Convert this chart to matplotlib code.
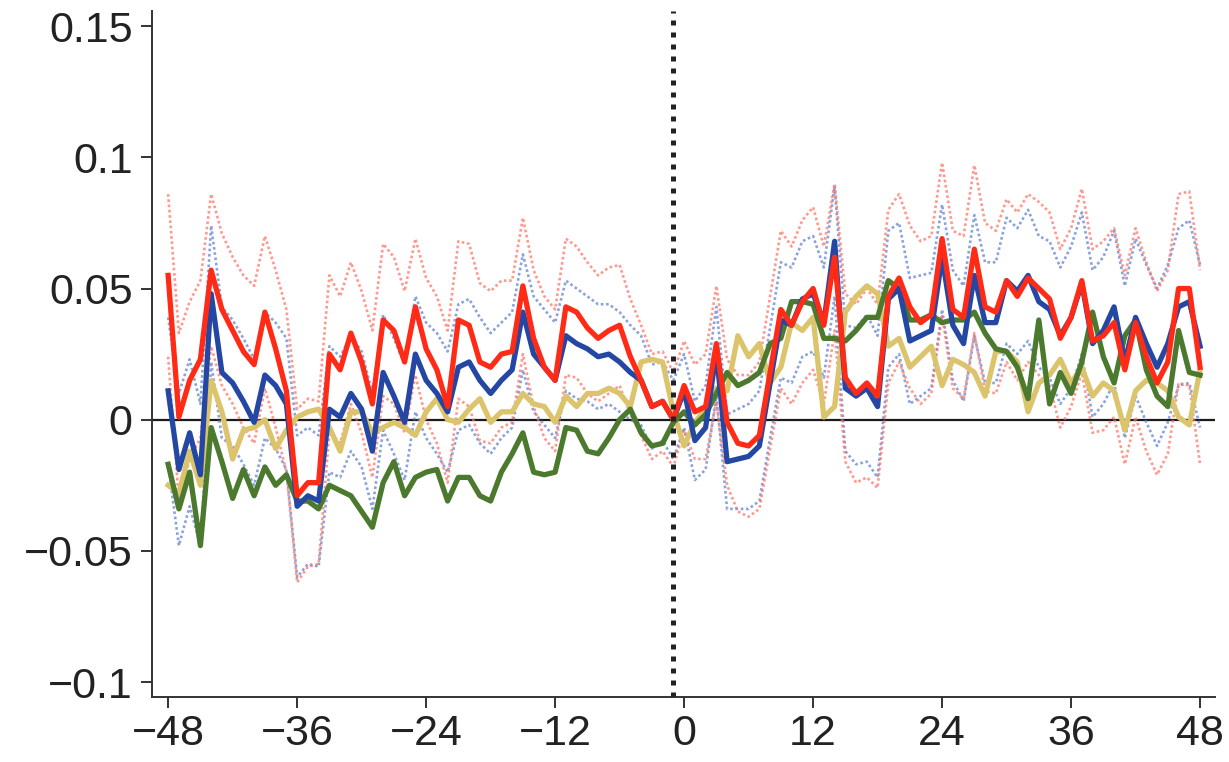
import numpy as np
import matplotlib
matplotlib.use("Agg")
import matplotlib.pyplot as plt

# months relative to the event
months = list(range(-48, 49))

red = [0.055, 0.001, 0.015, 0.023, 0.057, 0.042, 0.034, 0.026, 0.021, 0.041, 0.027, 0.011,
       -0.029, -0.024, -0.024, 0.025, 0.019, 0.033, 0.022, 0.006, 0.038, 0.034, 0.022, 0.043,
       0.027, 0.019, 0.005, 0.038, 0.036, 0.022, 0.020, 0.025, 0.026, 0.051, 0.031, 0.020,
       0.015, 0.043, 0.041, 0.035, 0.031, 0.034, 0.036, 0.024, 0.015, 0.005, 0.007, 0.000,
       0.013, 0.003, 0.005, 0.029, -0.001, -0.009, -0.010, -0.006, 0.018, 0.042, 0.036, 0.045,
       0.050, 0.036, 0.062, 0.016, 0.010, 0.014, 0.009, 0.047, 0.054, 0.043, 0.037, 0.040,
       0.069, 0.042, 0.039, 0.065, 0.043, 0.041, 0.053, 0.047, 0.054, 0.050, 0.046, 0.031,
       0.039, 0.053, 0.030, 0.032, 0.037, 0.019, 0.037, 0.024, 0.014, 0.022, 0.050, 0.050, 0.020]

blue = [0.011, -0.019, -0.005, -0.021, 0.048, 0.018, 0.014, 0.007, -0.001, 0.017, 0.013, 0.006,
        -0.033, -0.029, -0.031, 0.004, 0.001, 0.010, 0.004, -0.012, 0.018, 0.009, -0.001, 0.025,
        0.015, 0.010, 0.003, 0.020, 0.022, 0.015, 0.010, 0.015, 0.019, 0.041, 0.025, 0.020,
        0.015, 0.032, 0.029, 0.027, 0.024, 0.025, 0.022, 0.018, 0.015, 0.005, 0.007, 0.000,
        0.011, -0.008, -0.003, 0.026, -0.016, -0.015, -0.014, -0.010, 0.014, 0.038, 0.036, 0.046,
        0.048, 0.037, 0.068, 0.012, 0.009, 0.012, 0.005, 0.046, 0.050, 0.030, 0.032, 0.034,
        0.062, 0.036, 0.029, 0.055, 0.037, 0.037, 0.053, 0.049, 0.055, 0.045, 0.042, 0.032,
        0.039, 0.052, 0.029, 0.034, 0.043, 0.022, 0.039, 0.029, 0.020, 0.029, 0.043, 0.045, 0.028]

yellow = [-0.025, -0.028, -0.012, -0.025, 0.015, 0.003, -0.015, -0.004, -0.003, 0.000, -0.011, -0.004,
          0.001, 0.003, 0.004, -0.003, -0.012, 0.003, 0.003, -0.005, -0.003, -0.001, -0.003, -0.006,
          0.003, 0.008, 0.000, -0.001, 0.004, 0.008, -0.001, 0.003, 0.003, 0.010, 0.006, 0.005,
          -0.001, 0.009, 0.005, 0.010, 0.010, 0.012, 0.010, 0.005, 0.022, 0.023, 0.022, 0.003,
          -0.010, -0.001, 0.004, 0.012, 0.011, 0.032, 0.024, 0.029, 0.014, 0.020, 0.037, 0.034,
          0.039, 0.001, 0.005, 0.041, 0.047, 0.051, 0.048, 0.028, 0.031, 0.020, 0.024, 0.028,
          0.013, 0.023, 0.021, 0.018, 0.009, 0.026, 0.026, 0.022, 0.003, 0.014, 0.017, 0.023,
          0.014, 0.020, 0.009, 0.014, 0.011, -0.004, 0.011, 0.015, 0.014, 0.011, 0.001, -0.002, 0.019]

green = [-0.017, -0.034, -0.020, -0.048, -0.003, -0.016, -0.030, -0.019, -0.029, -0.018, -0.025, -0.021,
         -0.031, -0.031, -0.034, -0.025, -0.027, -0.029, -0.035, -0.041, -0.024, -0.016, -0.029, -0.022,
         -0.020, -0.019, -0.031, -0.022, -0.022, -0.029, -0.031, -0.020, -0.013, -0.005, -0.020, -0.021,
         -0.020, -0.003, -0.004, -0.012, -0.013, -0.007, 0.000, 0.004, -0.005, -0.010, -0.009, -0.001,
         0.003, -0.002, 0.002, 0.010, 0.018, 0.013, 0.015, 0.018, 0.029, 0.031, 0.045, 0.045,
         0.044, 0.031, 0.031, 0.030, 0.034, 0.039, 0.039, 0.053, 0.050, 0.038, 0.038, 0.040,
         0.037, 0.038, 0.038, 0.041, 0.033, 0.027, 0.026, 0.020, 0.008, 0.038, 0.006, 0.018,
         0.010, 0.022, 0.041, 0.024, 0.014, 0.032, 0.038, 0.019, 0.009, 0.005, 0.034, 0.018, 0.017]

# half-width of the confidence bands (dotted)
red_ci = [0.031, 0.032, 0.030, 0.030, 0.029, 0.029, 0.028, 0.029, 0.030, 0.029, 0.030, 0.031,
          0.033, 0.032, 0.031, 0.030, 0.028, 0.027, 0.027, 0.028, 0.029, 0.028, 0.027, 0.026,
          0.027, 0.028, 0.029, 0.030, 0.031, 0.030, 0.029, 0.028, 0.027, 0.026, 0.026, 0.027,
          0.027, 0.026, 0.025, 0.025, 0.024, 0.024, 0.023, 0.022, 0.021, 0.020, 0.019, 0.018,
          0.017, 0.018, 0.020, 0.022, 0.024, 0.026, 0.027, 0.028, 0.029, 0.030, 0.030, 0.031,
          0.031, 0.030, 0.028, 0.032, 0.034, 0.036, 0.035, 0.033, 0.032, 0.031, 0.031, 0.030,
          0.029, 0.030, 0.031, 0.032, 0.032, 0.031, 0.031, 0.032, 0.032, 0.033, 0.033, 0.034,
          0.034, 0.035, 0.035, 0.036, 0.036, 0.036, 0.036, 0.036, 0.035, 0.035, 0.036, 0.037, 0.037]

blue_ci = [0.028, 0.029, 0.028, 0.027, 0.026, 0.025, 0.024, 0.024, 0.024, 0.024, 0.024, 0.025,
           0.027, 0.026, 0.025, 0.024, 0.023, 0.022, 0.022, 0.022, 0.022, 0.022, 0.022, 0.022,
           0.022, 0.023, 0.023, 0.024, 0.024, 0.024, 0.023, 0.022, 0.022, 0.022, 0.022, 0.022,
           0.022, 0.021, 0.021, 0.020, 0.020, 0.019, 0.019, 0.018, 0.017, 0.016, 0.015, 0.015,
           0.014, 0.015, 0.016, 0.017, 0.018, 0.019, 0.020, 0.021, 0.021, 0.022, 0.022, 0.022,
           0.022, 0.021, 0.021, 0.024, 0.026, 0.028, 0.027, 0.026, 0.025, 0.024, 0.023, 0.022,
           0.020, 0.021, 0.022, 0.023, 0.023, 0.023, 0.024, 0.024, 0.025, 0.025, 0.026, 0.026,
           0.027, 0.027, 0.028, 0.028, 0.029, 0.029, 0.030, 0.030, 0.030, 0.030, 0.030, 0.031, 0.031]

x_ticks = [-48, -36, -24, -12, 0, 12, 24, 36, 48]
x_labels = ['\u221248', '\u221236', '\u221224', '\u221212', '0', '12', '24', '36', '48']
y_ticks = [-0.1, -0.05, 0, 0.05, 0.1, 0.15]
y_labels = ['\u22120.1', '\u22120.05', '0', '0.05', '0.1', '0.15']
event_month = -1


def main():
    plt.rcParams['font.family'] = ['Liberation Sans', 'DejaVu Sans']

    fig = plt.figure(figsize=(12.29, 7.62), dpi=100)
    ax = fig.add_axes([0.1237, 0.0853, 0.865, 0.9])

    x = np.array(months)
    r, b = np.array(red), np.array(blue)
    rc, bc = np.array(red_ci), np.array(blue_ci)

    # dotted confidence bands
    band = dict(lw=1.9, linestyle=(0, (1.0, 1.0)), alpha=0.7, zorder=2)
    ax.plot(x, b + bc, color='#5a7ccc', **band)
    ax.plot(x, b - bc, color='#5a7ccc', **band)
    ax.plot(x, r + rc, color='#ff6e60', **band)
    ax.plot(x, r - rc, color='#ff6e60', **band)

    # zero line and event line
    ax.axhline(0, color='#1a1a1a', lw=1.6, zorder=1)
    ax.axvline(event_month, color='#222222', lw=3.6, linestyle=(0, (1, 1.4)), zorder=6)

    # main estimates
    lw = 3.8
    ax.plot(x, yellow, color='#dcc46c', lw=lw, zorder=3)
    ax.plot(x, green, color='#4b7a2e', lw=lw, zorder=4)
    ax.plot(x, blue, color='#2447a3', lw=lw, zorder=5)
    ax.plot(x, red, color='#ff2b17', lw=lw, zorder=5)

    ax.set_xlim(-49.5, 49.4)
    ax.set_ylim(-0.1057, 0.1557)
    ax.set_xticks(x_ticks)
    ax.set_xticklabels(x_labels, fontsize=31,
                       family=['DejaVu Sans Condensed', 'Liberation Sans Narrow', 'Liberation Sans'])
    ax.set_yticks(y_ticks)
    ax.set_yticklabels(y_labels, fontsize=31)

    for s in ['top', 'right']:
        ax.spines[s].set_visible(False)
    for s in ['left', 'bottom']:
        ax.spines[s].set_linewidth(1.4)
        ax.spines[s].set_color('#333333')
    ax.tick_params(direction='out', length=8, width=1.4, color='#333333',
                   labelcolor='#222222', pad=6)
    ax.tick_params(axis='x', pad=4)

    plt.savefig('out.png', dpi=100)


if __name__ == "__main__":
    main()
